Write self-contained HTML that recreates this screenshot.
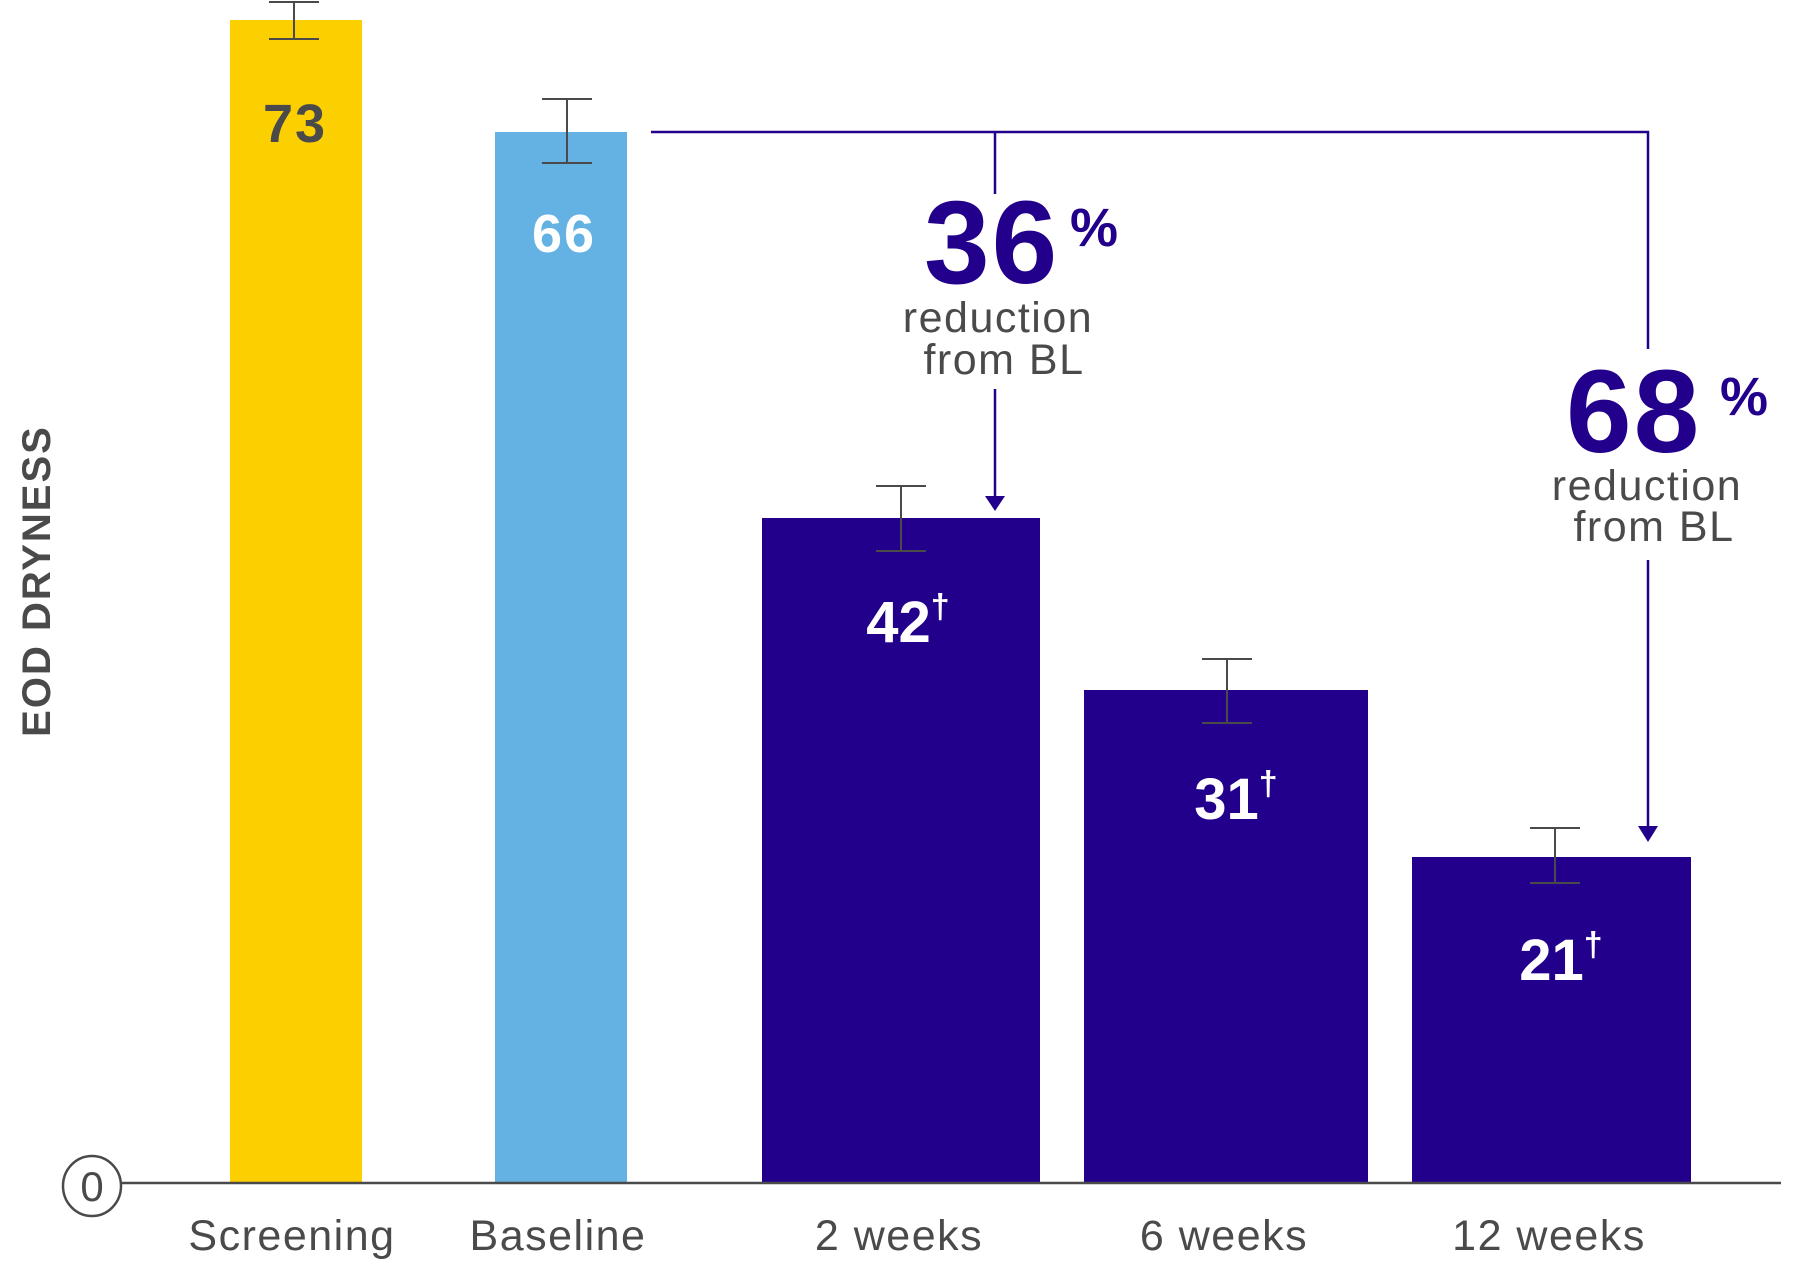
<!DOCTYPE html>
<html><head><meta charset="utf-8"><style>
html,body{margin:0;padding:0;background:#fff;}
svg{display:block;}
text{font-family:"Liberation Sans",sans-serif;}
</style></head><body>
<svg width="1796" height="1265" viewBox="0 0 1796 1265" xmlns="http://www.w3.org/2000/svg">
<g transform="translate(-4,-2)">
<rect x="234" y="22" width="132" height="1163" fill="#FCD000"/>
<rect x="499" y="134" width="132" height="1051" fill="#64B1E4"/>
<rect x="766" y="520" width="278" height="665" fill="#22008C"/>
<rect x="1088" y="692" width="284" height="493" fill="#22008C"/>
<rect x="1416" y="859" width="279" height="326" fill="#22008C"/>
<line x1="121" y1="1185" x2="1785" y2="1185" stroke="#4a4a4a" stroke-width="2.5"/>
<ellipse cx="96" cy="1188" rx="29" ry="30" fill="#fff" stroke="#4a4a4a" stroke-width="2.5"/>
<text x="96" y="1203" font-size="42" fill="#4a4a4a" text-anchor="middle">0</text>
<g stroke="#4a4a4a" stroke-width="2" fill="none">
<path d="M298 4V41M273 4H323M273 41H323"/>
<path d="M571 101V165M546 101H596M546 165H596"/>
<path d="M905 488V553M880 488H930M880 553H930"/>
<path d="M1231 661V725M1206 661H1256M1206 725H1256"/>
<path d="M1559 830V885M1534 830H1584M1534 885H1584"/>
</g>
<g stroke="#22008C" stroke-width="2.5" fill="none">
<path d="M655 134H1652V351"/>
<path d="M999 134V196"/>
<path d="M999 391V500"/>
<path d="M1652 562V832"/>
</g>
<polygon points="989,498 1009,498 999,513" fill="#22008C"/>
<polygon points="1642,828 1662,828 1652,844" fill="#22008C"/>
<text x="299" y="144" font-size="54" font-weight="bold" fill="#4a4a4a" text-anchor="middle" letter-spacing="2">73</text>
<text x="568" y="254" font-size="54" font-weight="bold" fill="#fff" text-anchor="middle" letter-spacing="2">66</text>
<text x="912" y="644" font-size="58" font-weight="bold" fill="#fff" text-anchor="middle">42<tspan font-size="34" dy="-24">†</tspan></text>
<text x="1240" y="821" font-size="58" font-weight="bold" fill="#fff" text-anchor="middle">31<tspan font-size="34" dy="-24">†</tspan></text>
<text x="1565" y="982" font-size="58" font-weight="bold" fill="#fff" text-anchor="middle">21<tspan font-size="34" dy="-24">†</tspan></text>
<text x="928" y="285" font-size="118" font-weight="bold" fill="#22008C" letter-spacing="2">36</text>
<text x="1074" y="248" font-size="54" font-weight="bold" fill="#22008C">%</text>
<text x="1002" y="334" font-size="43" fill="#4a4a4a" text-anchor="middle" letter-spacing="1.5">reduction</text>
<text x="1008" y="376" font-size="43" fill="#4a4a4a" text-anchor="middle" letter-spacing="1.5">from BL</text>
<text x="1570" y="454" font-size="118" font-weight="bold" fill="#22008C" letter-spacing="2">68</text>
<text x="1724" y="417" font-size="54" font-weight="bold" fill="#22008C">%</text>
<text x="1651" y="502" font-size="43" fill="#4a4a4a" text-anchor="middle" letter-spacing="1.5">reduction</text>
<text x="1658" y="543" font-size="43" fill="#4a4a4a" text-anchor="middle" letter-spacing="1.5">from BL</text>
<text x="296" y="1252" font-size="43" fill="#4a4a4a" text-anchor="middle" letter-spacing="1.5">Screening</text>
<text x="562" y="1252" font-size="43" fill="#4a4a4a" text-anchor="middle" letter-spacing="1.5">Baseline</text>
<text x="903" y="1252" font-size="43" fill="#4a4a4a" text-anchor="middle" letter-spacing="1.5">2 weeks</text>
<text x="1228" y="1252" font-size="43" fill="#4a4a4a" text-anchor="middle" letter-spacing="1.5">6 weeks</text>
<text x="1553" y="1252" font-size="43" fill="#4a4a4a" text-anchor="middle" letter-spacing="1.5">12 weeks</text>
<text transform="translate(54,583) rotate(-90)" font-size="40" font-weight="bold" fill="#4a4a4a" text-anchor="middle" letter-spacing="2">EOD DRYNESS</text>
</g>
</svg>
</body></html>
